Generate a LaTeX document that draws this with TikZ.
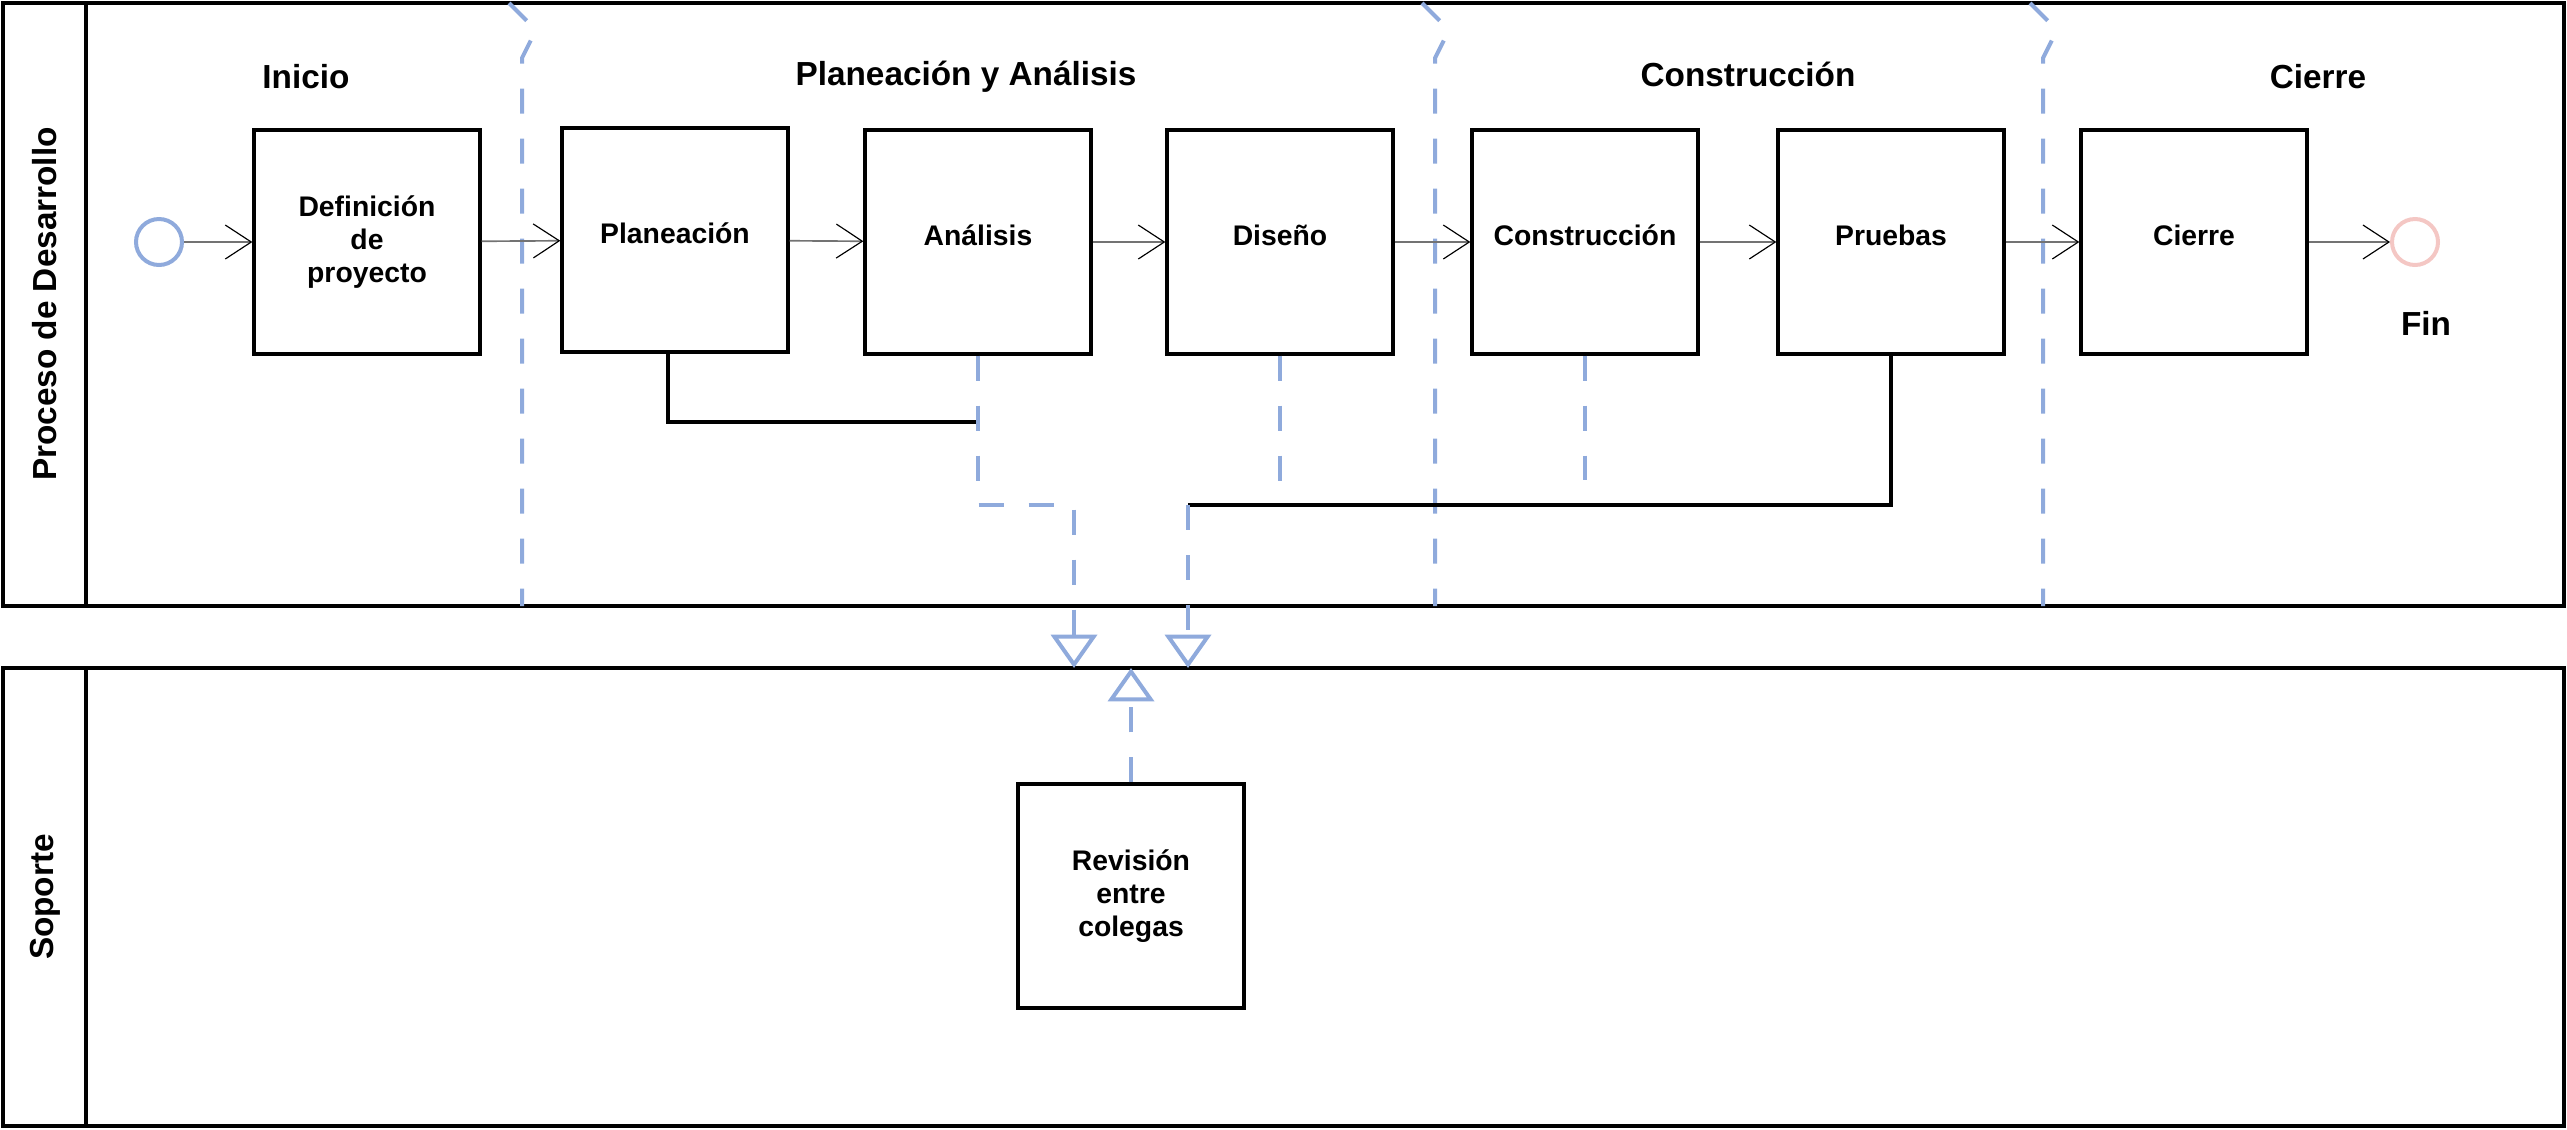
\documentclass[tikz,border=0pt]{standalone}
\usepackage{fontspec}
\setmainfont{Liberation Sans}
\usetikzlibrary{arrows.meta}

\definecolor{azul}{RGB}{143,170,220}
\definecolor{rosa}{RGB}{244,199,196}
\definecolor{gris}{RGB}{115,115,115}

\tikzset{
  tarea/.style={draw, line width=1pt, minimum width=67.8pt, minimum height=67.2pt,
    inner sep=0pt, align=center, font=\bfseries\fontsize{8.5}{10}\selectfont},
  tarea1/.style={tarea, text depth=4pt},
  evento/.style={circle, line width=1.2pt, minimum size=13.8pt, inner sep=0pt},
  titulo/.style={inner sep=0.75pt, font=\bfseries\fontsize{10}{12}\selectfont},
  carril/.style={line width=1.1pt},
  flujo/.style={draw=gris, line width=0.5pt,
    -{Straight Barb[length=7.8pt,width=10.2pt,line width=0.35pt,color=black]}},
  mensaje/.style={draw=azul, line width=1.2pt, dash pattern=on 7.5pt off 7.5pt},
  punta/.style={-{Triangle[open,fill=white,length=10pt,width=13.8pt]}},
  asocia/.style={line width=1pt},
}

\begin{document}
\begin{tikzpicture}[x=0.3pt,y=0.3pt,yscale=-1]
\useasboundingbox (0,0) rectangle (2567,1129);

%Pools
\draw[carril] (3,3) rectangle (2564,606);
\draw[carril] (86,3) -- (86,606);
\draw[carril] (3,668) rectangle (2564,1126);
\draw[carril] (86,668) -- (86,1126);
\node[titulo, rotate=90] (pdesa) at (45,304) {Proceso de Desarrollo};
\node[titulo, rotate=90] (psopo) at (45,897) {Soporte};

%Lane dividers
\foreach \x in {522,1435,2043}
  \draw[mensaje] (\x-13,3) -- (\x+14,30) -- (\x,58) -- (\x,606);

%Lane titles
\node[titulo] (tinic) at (306,77) {Inicio};
\node[titulo] (tplan) at (966,77) {Planeación y Análisis};
\node[titulo] (tcons) at (1748,74) {Construcción};
\node[titulo] (tcier) at (2318,77) {Cierre};

%Tasks
\node[tarea] (defi) at (367,242) {Definición\\de\\proyecto};
\node[tarea1] (plan) at (675,240) {Planeación};
\node[tarea1] (anal) at (978,242) {Análisis};
\node[tarea1] (dise) at (1280,242) {Diseño};
\node[tarea1] (cons) at (1585,242) {Construcción};
\node[tarea1] (prue) at (1891,242) {Pruebas};
\node[tarea1] (cier) at (2194,242) {Cierre};
\node[tarea] (revi) at (1131,896) {Revisión\\entre\\colegas};

%Events
\node[evento, draw=azul] (inic) at (159,242) {};
\node[evento, draw=rosa] (fin) at (2415,242) {};
\node[titulo] (tfin) at (2426,323) {Fin};

%Sequence flows
\draw[flujo] (inic) -- (defi);
\draw[flujo] (defi) -- (plan);
\draw[flujo] (plan) -- (anal);
\draw[flujo] (anal) -- (dise);
\draw[flujo] (dise) -- (cons);
\draw[flujo] (cons) -- (prue);
\draw[flujo] (prue) -- (cier);
\draw[flujo] (cier) -- (fin);

%Message flows
\coordinate (ja) at (978,422);
\coordinate (ca) at (1074,505);
\coordinate (jb) at (1188,505);
\coordinate (cc) at (1585,480);
\coordinate (m1) at (1074,668);
\coordinate (m2) at (1188,668);
\coordinate (m3) at (1131,668);

\draw[asocia] ([xshift=-2.1pt]plan.south) |- (ja);
\draw[mensaje, punta] (anal.south) |- (ca) -- (m1);
\draw[mensaje] (dise.south) -- (dise.south |- jb);
\draw[asocia] (prue.south) |- (jb);
\draw[mensaje, punta] (jb) -- (m2);
\draw[mensaje] (cons.south) -- (cc);
\draw[mensaje, punta] (revi.north) -- (m3);

\end{tikzpicture}
\end{document}
